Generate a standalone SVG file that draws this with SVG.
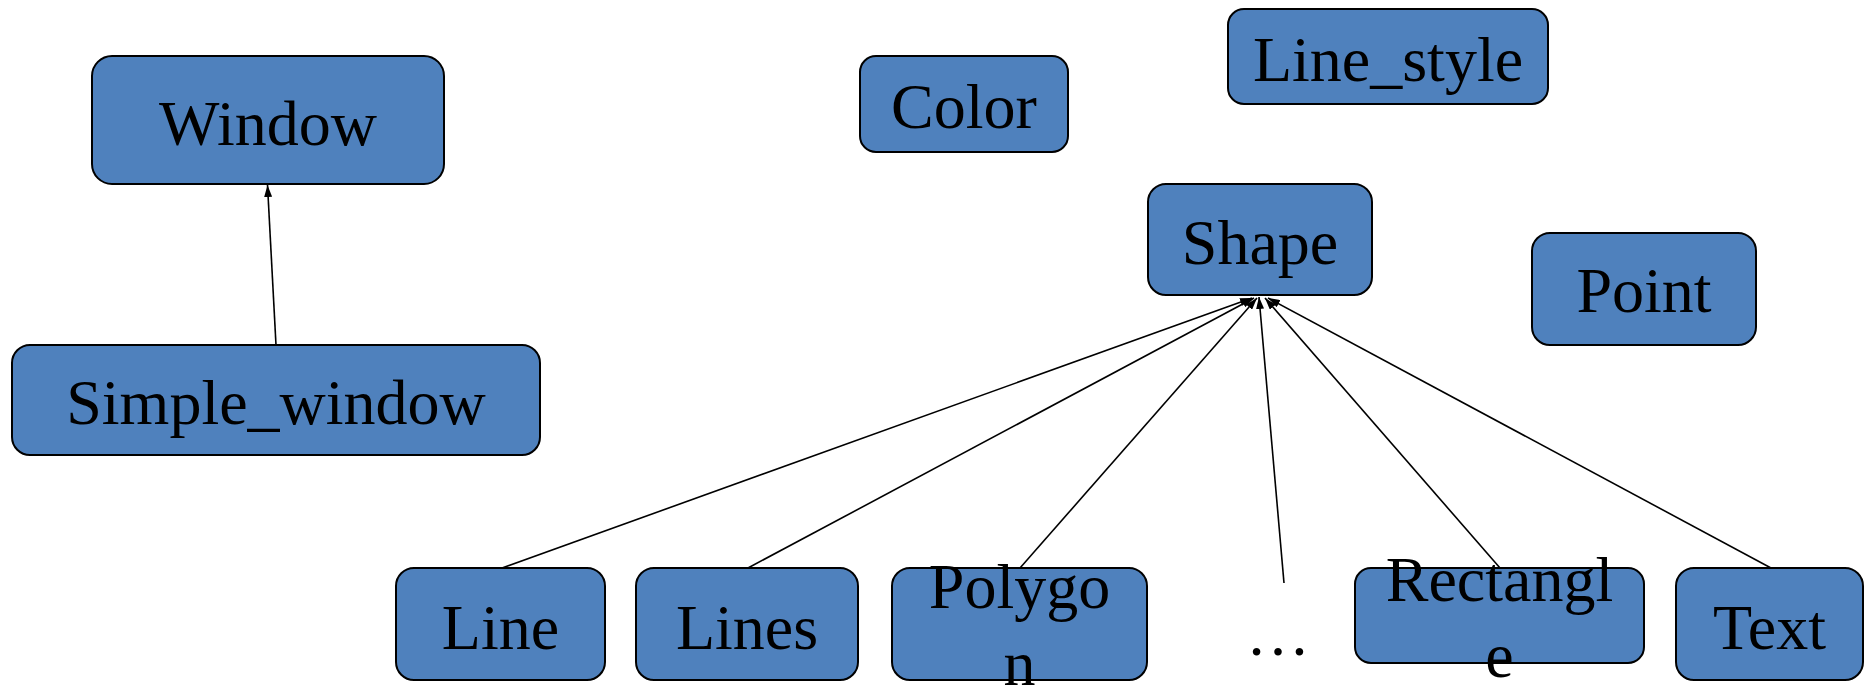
<svg xmlns="http://www.w3.org/2000/svg" width="1864" height="685" viewBox="0 0 1864 685">
<style>
.box{fill:#4F81BD;stroke:#000;stroke-width:2}
.lbl{font-family:"Liberation Serif","Times New Roman",serif;font-size:64px;fill:#000;text-anchor:middle}
.edge{stroke:#000;stroke-width:1.6;fill:none;marker-end:url(#ah)}
</style>
<defs>
<marker id="ah" viewBox="0 0 12 8" refX="12" refY="4" markerWidth="12" markerHeight="8" markerUnits="userSpaceOnUse" orient="auto">
<path d="M0,0 L12,4 L0,8 Z" fill="#000"/>
</marker>
</defs>
<rect width="1864" height="685" fill="#fff"/>
<g id="connectors">
<line class="edge" x1="276" y1="345" x2="267.5" y2="185"/>
<line class="edge" x1="502" y1="568" x2="1252" y2="298"/>
<line class="edge" x1="748" y1="568" x2="1254" y2="298"/>
<line class="edge" x1="1020" y1="568" x2="1257" y2="298"/>
<line class="edge" x1="1284" y1="583" x2="1259" y2="297"/>
<line class="edge" x1="1500" y1="568" x2="1265" y2="298"/>
<line class="edge" x1="1771" y1="568" x2="1268" y2="298"/>
</g>
<g id="window"><rect class="box" x="92" y="56" width="352" height="128" rx="20"/><text class="lbl" x="268" y="145">Window</text></g>
<g id="simple_window"><rect class="box" x="12" y="345" width="528" height="110" rx="18"/><text class="lbl" x="276" y="424">Simple_window</text></g>
<g id="color"><rect class="box" x="860" y="56" width="208" height="96" rx="16"/><text class="lbl" x="964" y="128">Color</text></g>
<g id="line_style"><rect class="box" x="1228" y="9" width="320" height="95" rx="16"/><text class="lbl" x="1388" y="81">Line_style</text></g>
<g id="shape"><rect class="box" x="1148" y="184" width="224" height="111" rx="18"/><text class="lbl" x="1260" y="264">Shape</text></g>
<g id="point"><rect class="box" x="1532" y="233" width="224" height="112" rx="18"/><text class="lbl" x="1644" y="312">Point</text></g>
<g id="line"><rect class="box" x="396" y="568" width="209" height="112" rx="18"/><text class="lbl" x="500.5" y="649">Line</text></g>
<g id="lines"><rect class="box" x="636" y="568" width="222" height="112" rx="18"/><text class="lbl" x="747" y="649">Lines</text></g>
<g id="polygon"><rect class="box" x="892" y="568" width="255" height="112" rx="18"/><text class="lbl" x="1019.5" y="608">Polygo</text><text class="lbl" x="1019.5" y="685">n</text></g>
<g id="ellipsis"><text class="lbl" x="1278" y="655">…</text></g>
<g id="rectangle"><rect class="box" x="1355" y="568" width="289" height="95" rx="16"/><text class="lbl" x="1499.5" y="601">Rectangl</text><text class="lbl" x="1499.5" y="677">e</text></g>
<g id="text"><rect class="box" x="1676" y="568" width="187" height="112" rx="18"/><text class="lbl" x="1769.5" y="649">Text</text></g>
</svg>
